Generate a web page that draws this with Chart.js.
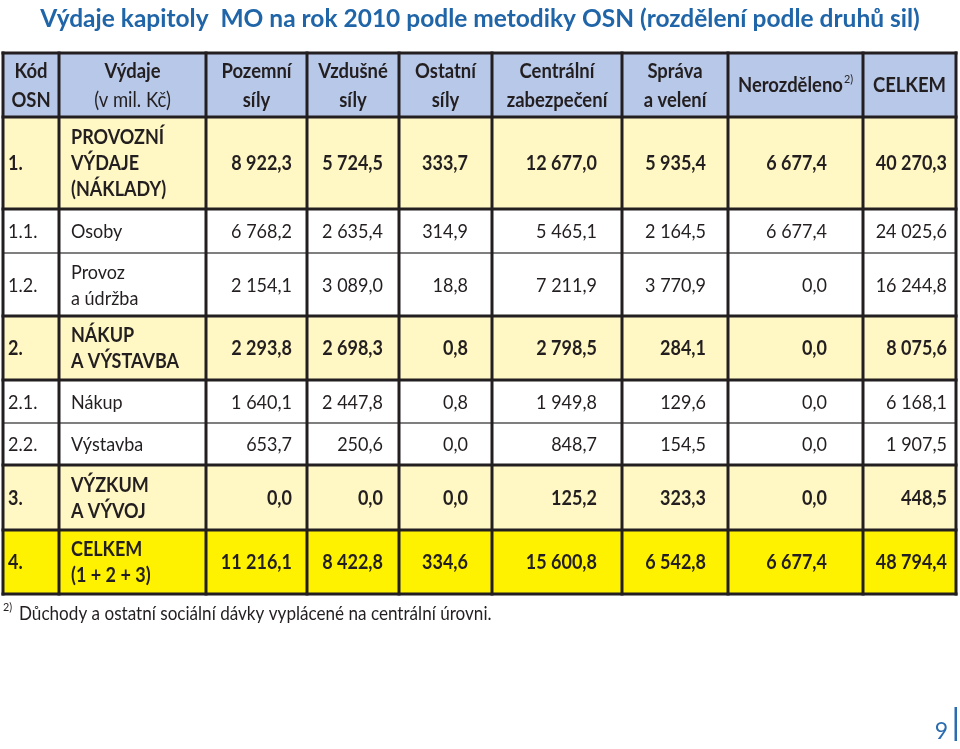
<!DOCTYPE html>
<html><head><meta charset="utf-8">
<script src="https://cdn.jsdelivr.net/npm/chart.js@4.4.1/dist/chart.umd.min.js"></script>
<style>html,body{margin:0;padding:0;background:#fff}#wrap{width:960px;height:749px;position:relative}</style>
</head><body><div id="wrap"><canvas id="c"></canvas></div>
<script>
// ---- data ----
const title = 'Výdaje kapitoly  MO na rok 2010 podle metodiky OSN (rozdělení podle druhů sil)';
const headers = [['Kód','OSN'],['Výdaje','(v mil. Kč)'],['Pozemní','síly'],['Vzdušné','síly'],['Ostatní','síly'],['Centrální','zabezpečení'],['Správa','a velení'],['Nerozděleno'],['CELKEM']];
const headerSup = ['', '', '', '', '', '', '', '2)', ''];
const codes = ['1.', '1.1.', '1.2.', '2.', '2.1.', '2.2.', '3.', '4.'];
const items = [['PROVOZNÍ','VÝDAJE','(NÁKLADY)'],['Osoby'],['Provoz','a údržba'],['NÁKUP','A VÝSTAVBA'],['Nákup'],['Výstavba'],['VÝZKUM','A VÝVOJ'],['CELKEM','(1 + 2 + 3)']];
const rowKinds = ['sum','detail','detail','sum','detail','detail','sum','total'];
const pozemni    = [8922.3, 6768.2, 2154.1, 2293.8, 1640.1, 653.7, 0.0, 11216.1];
const vzdusne    = [5724.5, 2635.4, 3089.0, 2698.3, 2447.8, 250.6, 0.0, 8422.8];
const ostatni    = [333.7, 314.9, 18.8, 0.8, 0.8, 0.0, 0.0, 334.6];
const centralni  = [12677.0, 5465.1, 7211.9, 2798.5, 1949.8, 848.7, 125.2, 15600.8];
const sprava     = [5935.4, 2164.5, 3770.9, 284.1, 129.6, 154.5, 323.3, 6542.8];
const nerozdeleno= [6677.4, 6677.4, 0.0, 0.0, 0.0, 0.0, 0.0, 6677.4];
const celkem     = [40270.3, 24025.6, 16244.8, 8075.6, 6168.1, 1907.5, 448.5, 48794.4];
const footnoteMark = '2)';
const footnote = 'Důchody a ostatní sociální dávky vyplácené na centrální úrovni.';
const pageNumber = '9';

const valueColumns = [pozemni, vzdusne, ostatni, centralni, sprava, nerozdeleno, celkem];

// ---- layout & style (units of the hidden linear scales) ----
const colEdges = [3, 59, 206, 307, 399, 492, 622, 728, 863, 956];
const rowEdges = [53, 117, 209, 253, 316, 380, 423, 465, 530, 594];
const numRightPad = [15, 16, 24, 25, 22, 36, 9];
const C = { header:'#b8c8e8', sum:'#fff8c4', total:'#fff200', detail:'#ffffff',
  line:'#231f20', thin:'#555555', text:'#231f20', blue:'#1f65a8', page:'#2b6cb0' };
const FONT = 'Lato, "Open Sans", sans-serif';
const SX = 0.9; // horizontal condensing of table text

function fmt(v){
  let [i,d] = v.toFixed(1).split('.');
  i = i.replace(/\B(?=(\d{3})+(?!\d))/g, ' ');
  return i + ',' + d;
}

const tablePlugin = {
  id: 'osnTable',
  afterDraw(chart){
    const {ctx} = chart; const xs = chart.scales.x, ys = chart.scales.y;
    const X = v => xs.getPixelForValue(v), Y = v => ys.getPixelForValue(v);
    ctx.save();
    const rect = (x0,y0,x1,y1,col) => { ctx.fillStyle = col; ctx.fillRect(X(x0), Y(y0), X(x1)-X(x0), Y(y1)-Y(y0)); };
    const hline = (xa,xb,yv,w,col) => { ctx.strokeStyle=col; ctx.lineWidth=w; ctx.beginPath(); ctx.moveTo(X(xa),Y(yv)); ctx.lineTo(X(xb),Y(yv)); ctx.stroke(); };
    const vline = (xv,ya,yb,w,col) => { ctx.strokeStyle=col; ctx.lineWidth=w; ctx.beginPath(); ctx.moveTo(X(xv),Y(ya)); ctx.lineTo(X(xv),Y(yb)); ctx.stroke(); };
    const text = (s, xv, cy, size, bold, align, col, sx) => {
      sx = sx || 1;
      ctx.save();
      ctx.font = (bold ? '700 ' : '400 ') + size + 'px ' + FONT;
      ctx.fillStyle = col || C.text; ctx.textAlign = align; ctx.textBaseline = 'alphabetic';
      ctx.translate(X(xv), Y(cy) + size * 0.36);
      ctx.scale(sx, 1);
      ctx.fillText(s, 0, 0);
      ctx.restore();
    };
    const L = colEdges[0], R = colEdges[colEdges.length-1];
    // fills
    rect(L, rowEdges[0], R, rowEdges[1], C.header);
    rowKinds.forEach((k,i) => rect(L, rowEdges[i+1], R, rowEdges[i+2], C[k]));
    const isThin = j => j >= 2 && j < rowEdges.length-1 && rowKinds[j-2] === 'detail' && rowKinds[j-1] === 'detail';
    for (let j = 0; j < rowEdges.length; j++) if (isThin(j)) hline(L, R, rowEdges[j], 1.4, C.thin);
    for (let j = 0; j < rowEdges.length; j++) if (!isThin(j)) hline(L-1.5, R+1.5, rowEdges[j], 3, C.line);
    colEdges.forEach(e => vline(e, rowEdges[0]-1.5, rowEdges[rowEdges.length-1]+1.5, 3, C.line));

    // title
    text(title, 480, 18, 24.5, true, 'center', C.blue);

    // header
    const HS = 20.5;
    headers.forEach((lines, c) => {
      const cx = (colEdges[c] + colEdges[c+1]) / 2;
      const cy = (rowEdges[0] + rowEdges[1]) / 2;
      const sp = 29;
      lines.forEach((s, k) => {
        const ly = cy + (k - (lines.length-1)/2) * sp;
        const bold = !(c === 1 && k === 1);
        if (headerSup[c]) {
          ctx.font = '700 ' + HS + 'px ' + FONT; const w1 = ctx.measureText(s).width * SX;
          ctx.font = '400 12px ' + FONT; const w2 = ctx.measureText(headerSup[c]).width * SX;
          const x0 = cx - (w1 + w2 + 1) / 2;
          text(s, x0, ly, HS, true, 'left', null, SX);
          text(headerSup[c], x0 + w1 + 1, ly - 6, 12, false, 'left', null, SX);
        } else text(s, cx, ly, HS, bold, 'center', null, SX);
      });
    });

    // body
    const BS = 20;
    rowKinds.forEach((k, i) => {
      const bold = k !== 'detail';
      const cy = (rowEdges[i+1] + rowEdges[i+2]) / 2;
      text(codes[i], colEdges[0] + 5, cy, BS, bold, 'left', null, SX);
      const lines = items[i];
      lines.forEach((s, n) => text(s, colEdges[1] + 12, cy + (n - (lines.length-1)/2) * 26, BS, bold, 'left', null, SX));
      valueColumns.forEach((arr, c) => text(fmt(arr[i]), colEdges[c+3] - numRightPad[c], cy, BS, bold, 'right', null, SX));
    });

    // footnote
    text(footnoteMark, 3, 607, 12, false, 'left', null, SX);
    text(footnote, 19, 613, 19, false, 'left', null, SX);

    // page number
    text(pageNumber, 948, 731, 23, false, 'right', C.page);
    ctx.fillStyle = C.page; ctx.fillRect(X(954.5), Y(707), 2.5, Y(741)-Y(707));
    ctx.restore();
  }
};

new Chart(document.getElementById('c'), {
  type: 'scatter',
  data: { datasets: [] },
  options: {
    responsive: true, maintainAspectRatio: false, animation: false, events: [],
    layout: { padding: 0 },
    plugins: { legend: { display: false }, tooltip: { enabled: false } },
    scales: {
      x: { type: 'linear', min: 0, max: 960, display: false },
      y: { type: 'linear', min: 0, max: 749, reverse: true, display: false }
    }
  },
  plugins: [tablePlugin]
});
</script></body></html>
